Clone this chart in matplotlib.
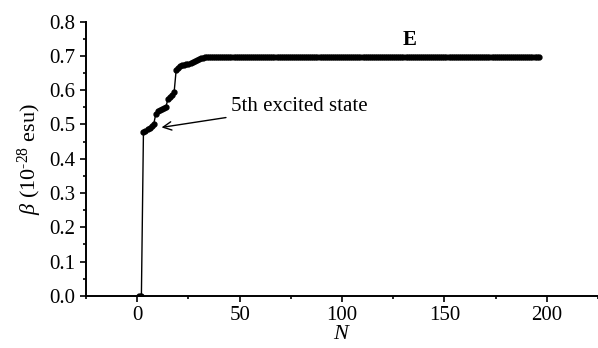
import matplotlib
matplotlib.use("Agg")
import matplotlib.pyplot as plt
from matplotlib.ticker import MultipleLocator

# data
n_rise = list(range(1, 41))
beta_rise = [0.0, 0.0, 0.478, 0.482, 0.486, 0.490, 0.495, 0.500, 0.530, 0.538,
             0.542, 0.546, 0.548, 0.552, 0.575, 0.580, 0.585, 0.595, 0.660, 0.665,
             0.670, 0.672, 0.674, 0.675, 0.677, 0.680, 0.683, 0.686, 0.689, 0.692,
             0.694, 0.695, 0.696, 0.697, 0.697, 0.697, 0.697, 0.697, 0.697, 0.697]
n_flat = list(range(41, 197))
beta_flat = [0.697] * len(n_flat)

n_all = n_rise + n_flat
beta_all = beta_rise + beta_flat

x_ticks = [0, 50, 100, 150, 200]
y_ticks = [0.0, 0.1, 0.2, 0.3, 0.4, 0.5, 0.6, 0.7, 0.8]

plt.rcParams['font.family'] = ['Liberation Serif', 'DejaVu Serif']
plt.rcParams['mathtext.fontset'] = 'custom'
plt.rcParams['mathtext.rm'] = 'Liberation Serif'
plt.rcParams['mathtext.it'] = 'Liberation Serif:italic'

fig = plt.figure(figsize=(5.98, 3.48), dpi=100)
ax = fig.add_axes([0.144, 0.15, 0.856, 0.788])

ax.plot(n_all, beta_all, '-', color='black', lw=1.0,
        marker='o', ms=3.5, mfc='black', mec='black')

ax.set_xlim(-25, 225)
ax.set_ylim(0, 0.8)
ax.set_xticks(x_ticks)
ax.set_yticks(y_ticks)
ax.set_yticklabels(['%.1f' % v for v in y_ticks])
ax.xaxis.set_minor_locator(MultipleLocator(25))
ax.yaxis.set_minor_locator(MultipleLocator(0.05))
ax.tick_params(which='both', direction='out', labelsize=15, width=1.2)
ax.tick_params(which='major', length=4)
ax.tick_params(which='minor', length=2.5)

for s in ['top', 'right']:
    ax.spines[s].set_visible(False)
for s in ['left', 'bottom']:
    ax.spines[s].set_linewidth(1.4)

ax.set_xlabel('$N$', fontsize=16, labelpad=0)
ax.set_ylabel(r'$\beta$ (10$^{\text{-28}}$ esu)', fontsize=16, labelpad=4)

ax.annotate('5th excited state', xy=(10.5, 0.49), xytext=(46, 0.553),
            fontsize=15, va='center',
            arrowprops=dict(arrowstyle='->', color='black', lw=1.0))
ax.text(133, 0.745, 'E', fontsize=15, fontweight='bold', ha='center', va='center')

fig.savefig('out.png', dpi=100)
